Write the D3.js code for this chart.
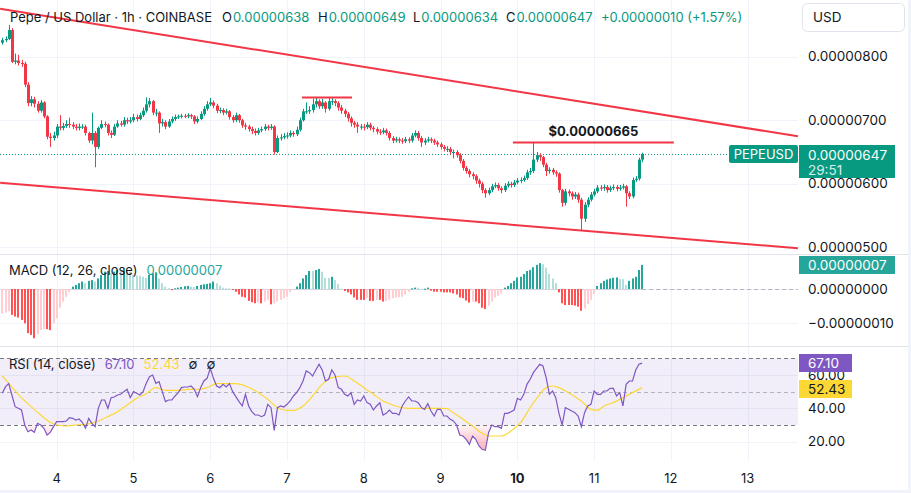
<!DOCTYPE html>
<html>
<head>
<meta charset="utf-8">
<script src="https://cdn.jsdelivr.net/npm/d3@7"></script>
<style>
html, body { margin: 0; padding: 0; background: #fff; }
svg { display: block; font-family: Inter, "Liberation Sans", sans-serif; }
</style>
</head>
<body>
<svg id="chart" width="911" height="493"></svg>
<script>
// prices are in units of 1e-8 USD, one candle per hour
const startTime = Date.UTC(2024, 5, 3, 7);
const firstOpen = 822;
const closes = [
  826,828,842,792,794,790,789,756,727,733,
  726,715,728,706,674,672,676,690,688,691,
  694,693,690,688,690,690,680,668,680,658,
  688,694,693,680,677,690,695,693,700,698,
  700,705,702,708,715,725,730,712,712,695,
  697,690,698,702,705,706,707,706,708,706,
  698,702,710,718,725,728,723,715,716,712,
  714,705,700,708,700,692,690,686,683,680,
  684,686,690,688,690,650,672,673,675,676,
  680,678,685,700,714,714,716,725,730,722,
  728,718,730,730,727,720,715,710,703,696,
  693,690,690,689,693,688,686,682,681,684,
  680,672,668,670,668,667,670,668,676,680,
  672,665,668,670,668,665,662,658,655,655,
  650,650,645,636,625,620,615,612,605,600,
  590,585,590,596,598,593,590,597,600,598,
  602,605,606,609,618,620,638,645,642,630,
  620,622,618,616,590,570,588,585,580,583,
  575,545,567,575,583,588,594,593,595,590,
  593,595,592,594,596,585,580,606,608,638,
  647
];
const highs = [
  830,832,850,845,805,803,795,792,760,738,
  737,730,732,730,708,680,682,694,708,696,
  700,704,697,694,695,694,693,682,712,683,
  690,700,698,695,684,694,700,699,705,704,
  705,710,709,712,720,736,735,732,718,714,
  702,700,702,706,709,709,710,710,711,710,
  708,706,714,722,730,735,731,726,720,719,
  718,716,708,712,710,702,696,693,690,687,
  688,690,694,693,694,692,676,678,680,681,
  684,683,690,704,718,728,722,734,735,733,
  734,730,736,735,733,730,724,718,713,706,
  699,697,694,694,697,696,691,689,686,688,
  687,683,675,674,673,672,674,673,680,684,
  683,675,672,674,673,671,668,665,661,659,
  658,654,653,648,639,628,623,618,615,608,
  603,593,594,600,602,601,596,601,604,603,
  606,609,610,613,622,625,665,650,648,644,
  633,626,625,621,618,592,592,591,588,587,
  586,578,571,579,587,592,598,598,599,598,
  597,599,598,598,600,598,588,610,612,641,
  649
];
const lows = [
  819,823,826,790,788,786,784,752,722,722,
  720,712,712,703,670,658,668,672,684,684,
  688,688,686,684,684,686,676,664,662,626,
  655,686,689,676,672,675,688,690,690,694,
  695,697,698,700,705,712,720,708,706,680,
  690,686,688,695,699,702,703,703,703,702,
  694,695,700,707,715,722,719,711,711,708,
  709,701,696,697,696,688,685,682,678,676,
  677,681,683,684,685,646,648,668,670,671,
  673,674,675,682,698,710,710,712,720,718,
  718,712,715,724,722,715,710,705,698,690,
  688,680,685,684,686,684,681,678,677,678,
  676,668,664,665,664,663,664,664,665,673,
  668,658,661,665,664,661,658,654,651,650,
  646,640,641,632,621,616,610,607,600,594,
  585,578,582,587,593,589,585,587,594,594,
  595,599,601,603,606,614,617,634,636,626,
  612,616,614,611,586,564,566,580,575,576,
  570,527,540,563,572,580,585,589,589,586,
  587,590,588,589,591,564,576,577,603,605,
  634
];
// MACD histogram, units of 1e-8
const macdHist = [
  -7.2,-6.9,-6.5,-7.6,-8.1,-8.4,-9.1,-10.1,-13.0,-13.5,
  -14.5,-13.3,-12.1,-11.8,-11.8,-12.1,-10.1,-8.6,-5.5,-3.7,
  -2.3,-1.0,0.7,1.2,1.7,2.2,1.7,2.4,2.6,2.2,
  3.1,4.1,5.1,5.3,4.6,5.1,5.6,5.1,6.1,5.6,
  5.1,4.1,4.0,3.9,3.6,3.3,4.1,4.6,4.9,3.1,
  1.7,0.7,0.2,-0.3,0.2,0.4,0.6,0.8,0.9,0.7,
  0.6,0.9,1.2,1.4,1.5,1.7,2.2,1.7,1.0,0.4,
  0.2,0.2,-0.1,-0.8,-1.6,-2.3,-2.5,-3.5,-3.9,-4.2,
  -4.0,-4.2,-3.7,-3.2,-4.5,-4.2,-3.7,-3.2,-2.7,-2.3,
  -1.0,-0.1,0.7,1.7,3.1,4.1,5.3,5.3,5.6,5.9,
  5.1,3.3,3.3,3.6,2.6,1.4,0.1,-0.6,-1.0,-1.6,
  -2.5,-3.2,-3.2,-3.2,-2.7,-3.5,-3.5,-3.2,-3.2,-3.7,
  -3.5,-3.2,-2.7,-2.5,-2.4,-2.3,-1.6,-0.8,0.2,0.4,
  0.4,0.0,0.1,0.4,-0.5,-0.8,-0.8,-0.8,-1.0,-1.0,
  -1.0,-1.3,-1.6,-2.5,-2.7,-3.4,-4.0,-3.7,-3.7,-4.2,
  -5.5,-5.9,-4.9,-3.7,-2.5,-2.0,-1.3,0.4,0.9,1.7,
  2.4,3.4,3.6,4.4,5.3,5.6,6.4,7.1,7.6,7.3,
  6.3,4.4,3.1,1.7,-1.0,-4.2,-4.7,-4.7,-4.7,-4.9,
  -5.2,-6.4,-5.7,-4.4,-3.2,-1.5,0.9,1.7,2.4,2.8,
  3.1,3.3,3.4,2.9,2.9,1.2,2.4,3.1,3.6,5.6,
  7.1
];
const rsi = [
  49,53,54.8,48,41,40,39,30,26,27,
  25.6,31,30,28,24,25.6,29,32,32,32,
  32.4,34.4,34,33,33.6,31.6,28,34,31,29,
  40,45,45,40,46.4,46.8,48,48.4,50,51.4,
  46.4,50,49,48,50,55,59,60,55,56,
  50,44,45,45,47.4,49.4,52.4,52.8,52.8,53.4,
  51.4,47,52.4,56.4,58,64,58,53.4,52.4,54.4,
  52.8,54.8,50,47,44,41.4,48.4,41.4,38,36,
  36,35,36,42.4,40.4,26.8,40.4,41.4,40.8,42.4,
  44.4,47.4,49.4,52.4,56.4,62.4,61.4,59.4,63,66.4,
  63,56.4,57.4,63,60,52.4,51.4,48.4,47.4,49.4,
  42.4,45,44.4,47.4,43.4,42.4,39,41.4,43.4,36,
  37,39,37,37,36,41.4,44.4,46.8,44.4,44.4,
  43.4,40.4,39.4,42.8,38.4,35.4,39.4,39.4,35.4,35.4,
  33.4,32.4,30,24,23.4,21.4,18.4,23.4,21.4,17.4,
  15.4,14.8,25.4,30,29,29,28,37,37,38,
  39,46,45,48.4,54.4,57.4,61.4,64,66.4,65.4,
  58.4,48.4,50.4,46.4,37,30,40.4,39.4,38.4,37.4,
  35.4,29,37.4,41.4,42.4,50.4,48.4,48.4,50.4,50.4,
  52,52,47.4,49.4,41.4,54.4,56.4,56.4,63,66.4,
  67.1
];
// RSI-based MA, read as [candle index, value]
const rsiMa = [
  [0,59.5],[2,55],[5,48.4],[9,41],[12,36],[15,31.6],[17,30],[20,29.4],[23,30],[26,30.4],
  [30,32.4],[33,35],[36,38],[39,42],[42,46],[45,48.8],[48,52.4],[51,50.8],[55,50.8],[58,51.4],
  [61,51.4],[64,52.4],[67,54.8],[70,54.8],[73,54.8],[76,53.4],[80,49.4],[83,45.4],[86,40.4],[89,38.8],
  [91,38.8],[94,41.4],[97,47.4],[100,54.4],[103,58.4],[107,59.4],[110,56.4],[113,52.4],[116,48.4],[119,44.4],
  [122,42],[124,40.8],[127,40],[131,40],[134,40],[137,40],[139,39.8],[141,37.4],[144,33.4],[147,29.4],
  [150,25],[152,23.4],[156,23.4],[159,26.4],[162,31.4],[165,40.4],[168,48.4],[170,52.4],[172,53.4],[174,52.4],
  [177,49.4],[181,44.4],[184,39.4],[186,38.8],[188,41.4],[191,43.4],[194,46.4],[197,49.4],[200,52.43]
];
const dayLabels = ['4','5','6','7','8','9','10','11','12','13'];
const priceTicks = [500, 600, 700, 800];
const macdTicks = [0, -10];
const rsiTicks = [60, 40, 20];
// drawn lines: [hours from startTime, price]
const upperTrend = [[-0.7, 875.5], [248.7, 674.7]];
const lowerTrend = [[-0.7, 601.6], [248.7, 498.6]];
const topLine = [[93.7, 735.7], [109.3, 735.7]];
const targetLine = [[159.6, 665], [209.9, 665]];

const up = '#089981', down = '#f23645';
const plotR = 798;
const hour = 3600e3;
const T = h => new Date(startTime + h * hour);
const axisFont = 13.5;

const svg = d3.select('#chart');
const x = d3.scaleUtc()
  .domain([Date.UTC(2024, 5, 4), Date.UTC(2024, 5, 13)])
  .range([56.7, 747.7]);
const y = d3.scaleLinear().domain([500, 800]).range([247.3, 56.7]);
const yM = d3.scaleLinear().domain([-10, 0]).range([323, 289]);
const yR = d3.scaleLinear().domain([30, 70]).range([425, 358.3]);

const candles = closes.map((c, j) => ({
  t: T(j),
  o: j === 0 ? firstOpen : closes[j - 1],
  c: c, h: highs[j], l: lows[j]
}));

const defs = svg.append('defs');
defs.append('clipPath').attr('id', 'clipMain').append('rect')
  .attr('x', 0).attr('y', 0).attr('width', plotR).attr('height', 254);
const grad = defs.append('linearGradient').attr('id', 'osGrad')
  .attr('gradientUnits', 'userSpaceOnUse')
  .attr('x1', 0).attr('x2', 0).attr('y1', yR(30)).attr('y2', yR(10));
grad.append('stop').attr('offset', 0).attr('stop-color', '#f23645').attr('stop-opacity', 0.05);
grad.append('stop').attr('offset', 1).attr('stop-color', '#f23645').attr('stop-opacity', 0.5);

// grid
const days = dayLabels.map(d => new Date(Date.UTC(2024, 5, +d)));
svg.append('g').selectAll('line').data(days).join('line')
  .attr('x1', d => Math.round(x(d)) + 0.5).attr('x2', d => Math.round(x(d)) + 0.5)
  .attr('y1', 0).attr('y2', 460)
  .attr('stroke', '#f0f3fa');
svg.append('g').selectAll('line').data(priceTicks).join('line')
  .attr('x1', 0).attr('x2', plotR)
  .attr('y1', d => Math.round(y(d)) + 0.5).attr('y2', d => Math.round(y(d)) + 0.5)
  .attr('stroke', '#f0f3fa');
svg.append('g').selectAll('line').data(macdTicks).join('line')
  .attr('x1', 0).attr('x2', plotR)
  .attr('y1', d => Math.round(yM(d)) + 0.5).attr('y2', d => Math.round(yM(d)) + 0.5)
  .attr('stroke', '#f0f3fa');
svg.append('g').selectAll('line').data(rsiTicks).join('line')
  .attr('x1', 0).attr('x2', plotR)
  .attr('y1', d => Math.round(yR(d)) + 0.5).attr('y2', d => Math.round(yR(d)) + 0.5)
  .attr('stroke', '#f0f3fa');

// pane separators and frame
[254, 346].forEach(v => svg.append('line')
  .attr('x1', 0).attr('x2', 911).attr('y1', v + 0.5).attr('y2', v + 0.5)
  .attr('stroke', '#e0e3eb'));
svg.append('rect').attr('x', 0).attr('y', 490).attr('width', 911).attr('height', 3).attr('fill', '#f0f3fa');
svg.append('rect').attr('x', 908).attr('y', 0).attr('width', 3).attr('height', 493).attr('fill', '#f0f3fa');

// main pane
const main = svg.append('g').attr('clip-path', 'url(#clipMain)');
const lastC = candles[candles.length - 1];
main.append('line')
  .attr('x1', 0).attr('x2', plotR)
  .attr('y1', Math.round(y(lastC.c)) + 0.5).attr('y2', Math.round(y(lastC.c)) + 0.5)
  .attr('stroke', up).attr('stroke-dasharray', '1,2');

main.selectAll('line.wick').data(candles).join('line').attr('class', 'wick')
  .attr('x1', d => Math.round(x(d.t)) + 0.5).attr('x2', d => Math.round(x(d.t)) + 0.5)
  .attr('y1', d => y(d.h)).attr('y2', d => y(d.l))
  .attr('stroke', d => d.c >= d.o ? up : down);
main.selectAll('rect.body').data(candles).join('rect').attr('class', 'body')
  .attr('x', d => Math.round(x(d.t)) - 1).attr('width', 3)
  .attr('y', d => y(Math.max(d.o, d.c)))
  .attr('height', d => Math.max(1, Math.abs(y(d.o) - y(d.c))))
  .attr('fill', d => d.c >= d.o ? up : down);

const seg = d3.line().x(d => x(T(d[0]))).y(d => y(d[1]));
[upperTrend, lowerTrend, topLine, targetLine].forEach(l => main.append('path')
  .attr('d', seg(l)).attr('fill', 'none').attr('stroke', down).attr('stroke-width', 2));

main.append('text')
  .attr('x', (x(T(targetLine[0][0])) + x(T(targetLine[1][0]))) / 2)
  .attr('y', y(665) - 6)
  .attr('text-anchor', 'middle').attr('font-size', 13).attr('font-weight', 'bold')
  .attr('fill', '#131722').text('$0.00000665');

// symbol label on the last price line
main.append('rect').attr('x', 729).attr('y', 145).attr('width', 69).attr('height', 18)
  .attr('rx', 2).attr('fill', up);
main.append('text').attr('x', 763.5).attr('y', 154).attr('dy', '0.35em')
  .attr('text-anchor', 'middle').attr('font-size', 13).attr('fill', '#fff').text('PEPEUSD');

// legend
const legend = svg.append('g').attr('font-size', 13);
legend.append('text').attr('x', 10).attr('y', 22).attr('fill', '#131722')
  .attr('textLength', 202).attr('lengthAdjust', 'spacing')
  .text('Pepe / US Dollar · 1h · COINBASE');
const ohlc = [['O', 222, '0.00000638'], ['H', 318, '0.00000649'], ['L', 413, '0.00000634'], ['C', 506, '0.00000647']];
ohlc.forEach(([k, px, v]) => {
  const t = legend.append('text').attr('x', px).attr('y', 22);
  t.append('tspan').attr('fill', '#131722').text(k);
  t.append('tspan').attr('fill', up).attr('dx', 1).text(v);
});
legend.append('text').attr('x', 601).attr('y', 22).attr('fill', up).text('+0.00000010 (+1.57%)');

// price axis
const axisG = svg.append('g').attr('font-size', axisFont).attr('fill', '#131722');
axisG.selectAll('text.p').data(priceTicks).join('text').attr('class', 'p')
  .attr('x', 808).attr('y', d => y(d)).attr('dy', '0.35em')
  .text(d => (d * 1e-8).toFixed(8));
svg.append('rect').attr('x', 802.5).attr('y', 3.5).attr('width', 102).attr('height', 28)
  .attr('rx', 5).attr('fill', '#fff').attr('stroke', '#e0e3eb');
svg.append('text').attr('x', 813).attr('y', 17.5).attr('dy', '0.35em').attr('font-size', axisFont)
  .attr('fill', '#131722').text('USD');
svg.append('rect').attr('x', 799).attr('y', 145).attr('width', 96).attr('height', 33).attr('fill', up);
svg.append('text').attr('x', 808).attr('y', 155).attr('dy', '0.35em').attr('font-size', axisFont)
  .attr('fill', '#fff').text((lastC.c * 1e-8).toFixed(8));
svg.append('text').attr('x', 808).attr('y', 170).attr('dy', '0.35em').attr('font-size', axisFont)
  .attr('fill', '#d6f0ea').text('29:51');

// MACD pane
const macd = svg.append('g');
const x0 = x(candles[0].t), x1 = x(lastC.t);
macd.append('line').attr('x1', x0).attr('x2', x1)
  .attr('y1', Math.round(yM(0)) + 0.5).attr('y2', Math.round(yM(0)) + 0.5)
  .attr('stroke', '#d1d4dc');
macd.append('line').attr('x1', x1).attr('x2', plotR)
  .attr('y1', Math.round(yM(0)) + 0.5).attr('y2', Math.round(yM(0)) + 0.5)
  .attr('stroke', '#b2b5be').attr('stroke-dasharray', '4,3');
const histColor = (v, i) => {
  const prev = i === 0 ? -Infinity : macdHist[i - 1];
  if (v >= 0) return prev < v ? '#26a69a' : '#b2dfdb';
  return prev < v ? '#ffcdd2' : '#ff5252';
};
macd.selectAll('rect').data(macdHist).join('rect')
  .attr('x', (d, i) => Math.round(x(T(i))) - 1).attr('width', 2)
  .attr('y', d => Math.min(yM(d), yM(0)))
  .attr('height', d => Math.max(1, Math.abs(yM(d) - yM(0))))
  .attr('fill', histColor);
const ml = svg.append('text').attr('x', 9).attr('y', 270).attr('dy', '0.35em').attr('font-size', 13);
ml.append('tspan').attr('fill', '#131722').text('MACD (12, 26, close)');
ml.append('tspan').attr('dx', 9).attr('fill', '#26a69a').text((Math.round(macdHist[200]) * 1e-8).toFixed(8));
axisG.selectAll('text.m').data(macdTicks).join('text').attr('class', 'm')
  .attr('x', 808).attr('y', d => yM(d)).attr('dy', '0.35em')
  .text(d => d < 0 ? '\u2212' + (-d * 1e-8).toFixed(8) : (d * 1e-8).toFixed(8));
svg.append('rect').attr('x', 799).attr('y', 256).attr('width', 96).attr('height', 18).attr('fill', '#26a69a');
svg.append('text').attr('x', 808).attr('y', 265).attr('dy', '0.35em').attr('font-size', axisFont)
  .attr('fill', '#fff').text((Math.round(macdHist[200]) * 1e-8).toFixed(8));

// RSI pane
const rsiG = svg.append('g');
rsiG.append('rect').attr('x', 0).attr('width', plotR)
  .attr('y', yR(70)).attr('height', yR(30) - yR(70))
  .attr('fill', '#7e57c2').attr('fill-opacity', 0.1);
[[70, '#787b86'], [50, '#b2b5be'], [30, '#787b86']].forEach(([v, c]) => rsiG.append('line')
  .attr('x1', 0).attr('x2', plotR)
  .attr('y1', Math.round(yR(v)) + 0.5).attr('y2', Math.round(yR(v)) + 0.5)
  .attr('stroke', c).attr('stroke-dasharray', '4,3'));
rsiG.append('path').datum(rsi)
  .attr('d', d3.area().x((d, i) => x(T(i))).y0(yR(30)).y1(d => yR(Math.min(d, 30))))
  .attr('fill', 'url(#osGrad)');
rsiG.append('path').datum(rsiMa)
  .attr('d', d3.line().curve(d3.curveMonotoneX).x(d => x(T(d[0]))).y(d => yR(d[1])))
  .attr('fill', 'none').attr('stroke', '#fdd835').attr('stroke-width', 1.2);
rsiG.append('path').datum(rsi)
  .attr('d', d3.line().x((d, i) => x(T(i))).y(d => yR(d)))
  .attr('fill', 'none').attr('stroke', '#7e57c2').attr('stroke-width', 1.2);
const rl = svg.append('text').attr('x', 9).attr('y', 364).attr('dy', '0.35em').attr('font-size', 13);
rl.append('tspan').attr('fill', '#131722').text('RSI (14, close)');
rl.append('tspan').attr('dx', 9).attr('fill', '#7e57c2').text('67.10');
rl.append('tspan').attr('dx', 9).attr('fill', '#fdd835').text('52.43');
rl.append('tspan').attr('dx', 9).attr('fill', '#131722').text('\u2205');
rl.append('tspan').attr('dx', 9).attr('fill', '#131722').text('\u2205');
axisG.selectAll('text.r').data(rsiTicks).join('text').attr('class', 'r')
  .attr('x', 808).attr('y', d => yR(d)).attr('dy', '0.35em')
  .text(d => d.toFixed(2));
svg.append('rect').attr('x', 799).attr('y', 354).attr('width', 53).attr('height', 18).attr('fill', '#7e57c2');
svg.append('text').attr('x', 808).attr('y', 363).attr('dy', '0.35em').attr('font-size', axisFont)
  .attr('fill', '#fff').text('67.10');
svg.append('rect').attr('x', 799).attr('y', 380).attr('width', 53).attr('height', 18).attr('fill', '#fdd835');
svg.append('text').attr('x', 808).attr('y', 389).attr('dy', '0.35em').attr('font-size', axisFont)
  .attr('fill', '#131722').text('52.43');

// time axis
svg.append('g').selectAll('text').data(days).join('text')
  .attr('x', d => x(d)).attr('y', 478).attr('dy', '0.35em')
  .attr('text-anchor', 'middle').attr('font-size', 13).attr('fill', '#131722')
  .attr('font-weight', (d, i) => dayLabels[i] === '10' ? 'bold' : null)
  .text((d, i) => dayLabels[i]);
</script>
</body>
</html>
